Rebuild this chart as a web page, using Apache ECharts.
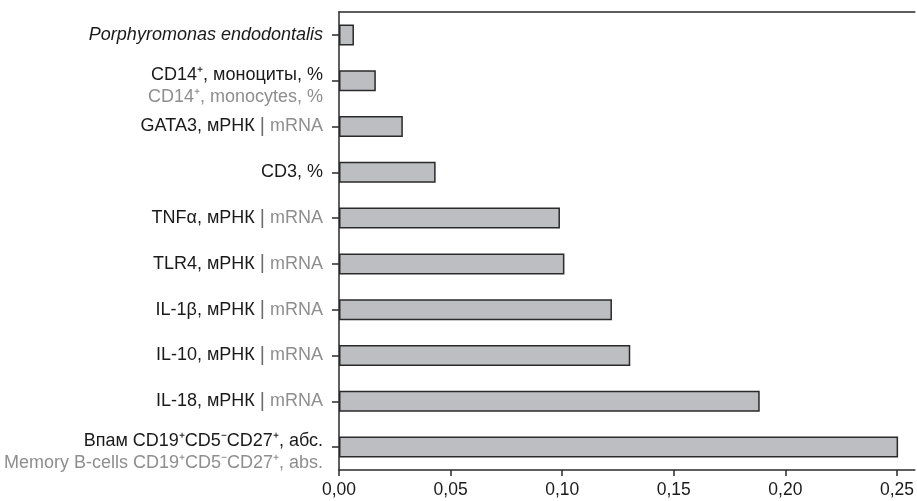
<!DOCTYPE html>
<html>
<head>
<meta charset="utf-8">
<script src="https://cdn.jsdelivr.net/npm/echarts@6/dist/echarts.min.js"></script>
<style>
  html, body { margin: 0; padding: 0; background: #fff; }
  #chart { width: 917px; height: 501px; }
</style>
</head>
<body>
<div id="chart"></div>
<script>
// категории (сверху вниз), ' | ' = одна строка, '\n' = две строки
var categories = [
    'Porphyromonas endodontalis',
    'CD14⁺, моноциты, %\nCD14⁺, monocytes, %',
    'GATA3, мРНК | mRNA',
    'CD3, %',
    'TNFα, мРНК | mRNA',
    'TLR4, мРНК | mRNA',
    'IL-1β, мРНК | mRNA',
    'IL-10, мРНК | mRNA',
    'IL-18, мРНК | mRNA',
    'Впам CD19⁺CD5⁻CD27⁺, абс.\nMemory B-cells CD19⁺CD5⁻CD27⁺, abs.'
];
var values = [0.0067, 0.0165, 0.0286, 0.0433, 0.099, 0.101, 0.1223, 0.1305, 0.1885, 0.2505];
var tickValues = [0, 0.05, 0.10, 0.15, 0.20, 0.25];

var axisColor = '#2a2a2a';
var font = '"Liberation Sans", Arial, sans-serif';

var catData = categories.map(function (c) {
    if (c.indexOf('\n') >= 0) {
        return { value: c, textStyle: { padding: [10, 0, 0, 0] } };
    }
    return c;
});

var myChart = echarts.init(document.getElementById('chart'));

var option = {
    animation: false,
    grid: { left: 339, right: 0, top: 12, bottom: 31, containLabel: false },
    xAxis: [{
        type: 'value',
        min: 0,
        max: 0.258,
        interval: 0.05,
        splitLine: { show: false },
        axisLine: { show: true, lineStyle: { color: axisColor, width: 1.5 } },
        axisTick: { show: true, length: 6, customValues: tickValues, lineStyle: { color: axisColor, width: 1.5 } },
        axisLabel: {
            customValues: tickValues,
            margin: 11,
            fontSize: 17.5,
            fontFamily: font,
            color: '#1a1a1a',
            formatter: function (v) { return v.toFixed(2).replace('.', ','); }
        }
    }, {
        // верхняя рамка
        type: 'value',
        position: 'top',
        min: 0,
        max: 0.258,
        splitLine: { show: false },
        axisLine: { show: true, lineStyle: { color: axisColor, width: 1.5 } },
        axisTick: { show: false },
        axisLabel: { show: false }
    }],
    yAxis: {
        type: 'category',
        inverse: true,
        data: catData,
        axisLine: { show: true, lineStyle: { color: axisColor, width: 1.5 } },
        axisTick: { show: true, alignWithLabel: true, length: 7, lineStyle: { color: axisColor, width: 1.5 } },
        axisLabel: {
            margin: 16,
            fontSize: 18,
            fontFamily: font,
            color: '#1a1a1a',
            formatter: function (v, i) {
                if (i === 0) return '{i|' + v + '}';
                if (v.indexOf('\n') >= 0) {
                    var p = v.split('\n');
                    return '{k|' + p[0] + '}\n{g|' + p[1] + '}';
                }
                if (v.indexOf(' | ') >= 0) {
                    var q = v.split(' | ');
                    return '{k|' + q[0] + ' }{s||}{g| ' + q[1] + '}';
                }
                return '{k|' + v + '}';
            },
            rich: {
                i: { fontSize: 18, fontStyle: 'italic', color: '#1a1a1a', fontFamily: font, lineHeight: 22 },
                k: { fontSize: 18, color: '#1a1a1a', fontFamily: font, lineHeight: 22 },
                g: { fontSize: 18, color: '#8e8e8e', fontFamily: font, lineHeight: 22 },
                s: { fontSize: 20, color: '#6e6e6e', fontFamily: font, lineHeight: 22 }
            }
        }
    },
    series: [{
        type: 'bar',
        data: values,
        barWidth: 21,
        itemStyle: { color: '#bdbec2', borderColor: '#2a2a2a', borderWidth: 1.5 }
    }]
};

myChart.setOption(option);
</script>
</body>
</html>
